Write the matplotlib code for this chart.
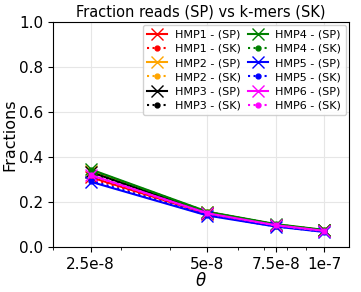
import matplotlib
matplotlib.use("Agg")
import matplotlib.pyplot as plt
from matplotlib.ticker import NullFormatter

theta = [2.5e-8, 5e-8, 7.5e-8, 1e-7]
tick_labels = ["2.5e-8", "5e-8", "7.5e-8", "1e-7"]
names = ["HMP1", "HMP2", "HMP3", "HMP4", "HMP5", "HMP6"]
colors = ["red", "orange", "black", "green", "blue", "magenta"]

sp = {
    "HMP1": [0.310, 0.148, 0.096, 0.071],
    "HMP2": [0.338, 0.155, 0.100, 0.075],
    "HMP3": [0.333, 0.153, 0.099, 0.074],
    "HMP4": [0.345, 0.157, 0.102, 0.076],
    "HMP5": [0.290, 0.140, 0.091, 0.067],
    "HMP6": [0.320, 0.150, 0.097, 0.072],
}
sk = {
    "HMP1": [0.305, 0.146, 0.095, 0.070],
    "HMP2": [0.335, 0.154, 0.099, 0.074],
    "HMP3": [0.330, 0.152, 0.098, 0.073],
    "HMP4": [0.342, 0.156, 0.101, 0.075],
    "HMP5": [0.295, 0.142, 0.092, 0.068],
    "HMP6": [0.318, 0.149, 0.096, 0.071],
}

fig = plt.figure(figsize=(3.61, 2.92), dpi=100)
ax = fig.add_axes([0.147, 0.154, 0.82, 0.771])

for n, c in zip(names, colors):
    ax.plot(theta, sp[n], color=c, linestyle="-", marker="x", markersize=9,
            linewidth=1.5, label=f"{n} - (SP)")
    ax.plot(theta, sk[n], color=c, linestyle=":", marker=".", markersize=7,
            linewidth=1.5, label=f"{n} - (SK)")

ax.set_xscale("log")
ax.set_xlim(2.0e-8, 1.16e-7)
ax.set_ylim(0, 1.0)
ax.set_xticks(theta)
ax.set_xticklabels(tick_labels)
ax.xaxis.set_minor_formatter(NullFormatter())
ax.set_yticks([0, 0.2, 0.4, 0.6, 0.8, 1.0])
ax.tick_params(axis="both", which="major", labelsize=11)
ax.grid(True, which="major", color="#e6e6e6", linewidth=0.8)
ax.set_axisbelow(True)
ax.set_xlabel(r"$\theta$", fontsize=12, labelpad=0)
ax.set_ylabel("Fractions", fontsize=11.5, labelpad=1)
ax.set_title("Fraction reads (SP) vs k-mers (SK)", fontsize=10.5, pad=4)

ax.legend(ncol=2, fontsize=8, loc="upper right", handlelength=1.8,
          columnspacing=0.6, labelspacing=0.38, borderpad=0.4,
          handletextpad=0.7, framealpha=0.9, borderaxespad=0.3)

fig.savefig("out.png", dpi=100)
